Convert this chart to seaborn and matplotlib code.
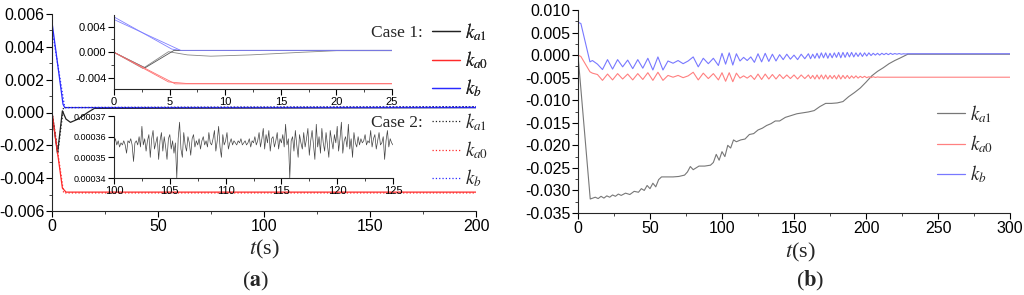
import numpy as np
import matplotlib
matplotlib.use('Agg')
import matplotlib.pyplot as plt
import seaborn as sns
from matplotlib.lines import Line2D
from matplotlib.ticker import MultipleLocator, FormatStrFormatter

# ---------------- (a) Case 1 ----------------
t_ka1_c1 = [0, 2.6, 4.9, 6.6, 8.7, 12.3, 16.8, 20, 200]
ka1_c1 = [0, -0.0025, 0.0001, -0.0004, -0.0006, -0.0004, 0.0, 0.00025, 0.0003]
t_ka0_c1 = [0, 4.9, 6.6, 200]
ka0_c1 = [0, -0.0046, -0.00485, -0.00485]
t_kb_c1 = [0, 5.2, 6.0, 200]
kb_c1 = [0.0055, 0.0005, 0.0003, 0.0003]

# ---------------- (a) Case 2 ----------------
t_ka1_c2 = [0, 2.8, 5.4, 200]
ka1_c2 = [0, -0.0024, 0.0003, 0.000357]
t_ka0_c2 = [0, 5.5, 200]
ka0_c2 = [0, -0.0049, -0.0049]
t_kb_c2 = [0, 6.0, 200]
kb_c2 = [0.0051, 0.0003, 0.000357]

# Case 2 k_a1, zoom 100..125 s (values in 1e-5)
t_zoom = np.linspace(100, 125, 201)
ka1_zoom = np.array([
    35.7, 35.9, 35.6, 35.8, 35.5, 35.7, 35.6, 35.8,
    35.6, 35.2, 35.8, 35.7, 35.9, 35.6, 34.8, 35.7,
    35.8, 35.6, 36.0, 35.5, 36.5, 35.6, 35.9, 35.3,
    35.8, 36.1, 35.0, 35.9, 36.3, 35.4, 35.7, 36.0,
    34.9, 35.8, 36.2, 35.3, 36.0, 35.5, 34.9, 35.9,
    36.1, 35.4, 35.8, 35.2, 35.7, 34.0, 35.9, 36.7,
    35.4, 35.0, 36.2, 35.6, 35.3, 36.0, 35.7, 35.1,
    35.9, 36.1, 35.5, 35.8, 35.6, 35.9, 35.4, 35.8,
    36.0, 35.6, 35.8, 35.5, 36.2, 35.7, 35.6, 35.9,
    36.3, 35.3, 35.8, 36.5, 35.5, 35.0, 36.1, 35.6,
    35.8, 36.2, 35.4, 35.7, 35.9, 35.6, 35.8, 35.7,
    35.6, 35.8, 35.7, 35.9, 35.6, 35.7, 35.8, 35.6,
    35.7, 35.9, 35.5, 35.8, 35.7, 36.0, 35.6, 35.8,
    36.2, 35.5, 35.9, 36.4, 35.4, 36.1, 35.7, 36.3,
    35.3, 35.9, 36.0, 35.5, 35.8, 36.2, 35.4, 35.9,
    35.7, 36.1, 35.5, 36.6, 35.6, 35.9, 34.0, 35.8,
    36.0, 35.3, 36.3, 35.6, 35.0, 36.1, 35.7, 35.4,
    36.2, 35.5, 35.9, 36.4, 35.1, 35.8, 36.3, 35.6,
    34.9, 36.6, 35.5, 36.0, 35.2, 36.4, 35.7, 35.3,
    36.2, 35.6, 35.0, 36.3, 35.8, 35.4, 36.1, 35.7,
    36.5, 35.3, 35.9, 36.7, 35.2, 35.8, 36.0, 35.5,
    36.6, 35.4, 35.9, 35.0, 36.2, 35.7, 35.5, 36.0,
    35.6, 35.9, 35.7, 35.8, 36.1, 35.6, 35.8, 35.7,
    36.3, 35.5, 35.9, 36.1, 35.4, 35.8, 36.2, 35.6,
    35.7, 36.0, 34.9, 35.8, 36.3, 35.5, 35.9, 35.7,
    35.6]) * 1e-5

# ---------------- (b) ----------------
t_b = [0, 2, 8.3,
       10, 13.5, 17, 20.5, 24, 27.5, 31, 34.5, 38, 41.5, 45, 48.5, 52,
       55.5, 59, 62.5, 66, 69.5, 73, 76.5, 80, 83.5, 87, 90.5, 94, 97.5,
       100, 102.5, 105, 107.5, 110, 112.5, 115, 117.5, 120, 122.5, 125,
       127.5, 130, 132.5, 135, 137.5, 140, 142.5, 145, 147.5, 150, 152.5,
       155, 157.5,
       160, 161.5, 163, 164.5, 166, 167.5, 169, 170.5, 172, 173.5,
       175, 176.5, 178, 179.5, 181, 182.5, 184, 185.5, 187, 188.5,
       190, 191.5, 193, 194.5, 196, 197.5, 199, 200.5, 202, 203.5,
       205, 206.5, 208, 209.5, 211, 212.5, 214, 215.5, 217, 218.5,
       220, 221.5, 223, 224.5, 226, 227.5, 229,
       231, 300]
kb_b = [7.3, 7.0, -1.5,
        -1.2, -2.0, -3.2, -1.0, -3.1, -1.0, -2.6, -1.1, -3.0, -1.0, -2.9, -0.7, -3.3,
        -0.4, -3.3, -1.3, -1.8, -1.2, -1.9, -1.3, -0.4, -2.6, -0.7, -1.9, -0.7, -2.3,
        0.4, -2.0, 0.5, -2.2, 0.3, -1.3, -0.5, -1.2, -0.4, -1.6, 0.3,
        -1.5, 0.4, -1.4, 0.2, -1.3, 0.1, -1.0, 0.2, -0.9, 0.0, -1.0,
        0.2, -0.8,
        0.3, -0.8, 0.2, -0.7, 0.4, -0.7, 0.5, -0.6, 0.5, -0.7,
        0.4, -0.6, 0.5, -0.5, 0.6, -0.6, 0.6, -0.5, 0.6, -0.4,
        0.6, -0.4, 0.5, -0.3, 0.5, -0.3, 0.5, -0.2, 0.5, -0.1,
        0.4, 0.0, 0.4, 0.0, 0.4, 0.1, 0.4, 0.1, 0.4, 0.15,
        0.35, 0.2, 0.35, 0.2, 0.3, 0.25, 0.3,
        0.3, 0.3]
ka0_b = [0.0, -0.3, -3.7,
         -4.0, -4.3, -5.6, -4.2, -5.5, -4.1, -5.3, -4.2, -5.5, -4.1, -5.4, -3.9, -5.6,
         -3.8, -5.6, -4.5, -4.9, -4.5, -5.0, -4.6, -3.8, -5.5, -4.0, -5.2, -4.1, -5.5,
         -3.9, -5.8, -3.9, -5.9, -4.0, -5.1, -4.6, -5.1, -4.5, -5.4, -4.2,
         -5.4, -4.2, -5.3, -4.3, -5.3, -4.3, -5.2, -4.4, -5.2, -4.4, -5.3,
         -4.4, -5.2,
         -4.4, -5.2, -4.5, -5.3, -4.4, -5.3, -4.4, -5.3, -4.4, -5.3,
         -4.5, -5.2, -4.5, -5.3, -4.4, -5.3, -4.5, -5.2, -4.5, -5.2,
         -4.6, -5.1, -4.6, -5.1, -4.7, -5.0, -4.7, -5.0, -4.8, -5.0,
         -4.8, -4.95, -4.85, -4.9, -4.9, -4.9, -4.9, -4.9, -4.9, -4.9,
         -4.9, -4.9, -4.9, -4.9, -4.9, -4.9, -4.9,
         -4.9, -4.9]

t_ka1_b = [0, 8.5, 12, 14, 16, 18, 20, 22, 24, 26, 28, 30, 33, 36, 39, 42, 44,
           46, 48, 50, 52, 54, 56, 58, 62, 66, 70, 74, 76, 78, 80, 84, 88, 92,
           94, 96, 98, 100, 102, 104, 106, 108, 110, 113, 116, 119, 122, 125,
           128, 131, 134, 137, 140, 144, 148, 152, 156, 160, 164, 168, 172,
           176, 180, 184, 188, 192, 196, 200, 204, 208, 212, 216, 220, 224,
           229, 235, 300]
ka1_b = [0.0, -31.9, -31.5, -31.8, -31.3, -31.7, -31.2, -31.5, -31.0, -31.3,
         -30.8, -31.1, -30.6, -30.9, -30.2, -30.4, -29.6, -30.0, -28.9, -29.6,
         -28.4, -29.2, -27.6, -27.0, -27.0, -27.0, -26.9, -26.6, -25.9, -24.7,
         -25.4, -24.6, -24.6, -24.4, -23.8, -22.0, -23.3, -21.4, -22.5, -20.0,
         -20.6, -18.8, -19.2, -18.8, -18.6, -17.6, -17.4, -16.6, -16.2, -15.6,
         -15.2, -14.6, -14.6, -13.8, -13.4, -13.0, -12.8, -12.6, -12.3, -11.4,
         -10.7, -10.7, -10.6, -10.3, -9.2, -8.3, -7.3, -6.0, -4.6, -3.6, -2.8,
         -1.9, -1.2, -0.6, 0.2, 0.2, 0.2]

sns.set_style('ticks')
plt.rcParams['font.family'] = ['Liberation Sans', 'DejaVu Sans']
plt.rcParams['mathtext.fontset'] = 'stix'
plt.rcParams['axes.unicode_minus'] = False
plt.rcParams['axes.linewidth'] = 0.8

W, H = 1024, 295
fig = plt.figure(figsize=(W / 100, H / 100), dpi=100)

def box(x0, y0, x1, y1):
    return [x0 / W, 1 - y1 / H, (x1 - x0) / W, (y1 - y0) / H]

def style(ax, size):
    sns.despine(ax=ax)
    ax.tick_params(which='major', direction='out', length=4, width=0.8,
                   labelsize=size, pad=1.5, colors='black')
    ax.tick_params(which='minor', direction='out', length=2, width=0.6)

BLK, RED, BLU = '#222222', '#ff2a2a', '#2a2aff'

# ---- panel (a) main ----
ax = fig.add_axes(box(52, 14, 476, 211))
for t, v, c in [(t_ka1_c1, ka1_c1, BLK), (t_ka0_c1, ka0_c1, RED), (t_kb_c1, kb_c1, BLU)]:
    sns.lineplot(x=t, y=v, ax=ax, color=c, lw=0.9)
for t, v, c in [(t_ka1_c2, ka1_c2, BLK), (t_ka0_c2, ka0_c2, RED), (t_kb_c2, kb_c2, BLU)]:
    sns.lineplot(x=t, y=v, ax=ax, color=c, lw=0.9, linestyle=':')
ax.set_xlim(0, 200)
ax.set_ylim(-0.006, 0.006)
ax.xaxis.set_major_locator(MultipleLocator(50))
ax.xaxis.set_minor_locator(MultipleLocator(25))
ax.yaxis.set_major_locator(MultipleLocator(0.002))
ax.yaxis.set_minor_locator(MultipleLocator(0.001))
ax.yaxis.set_major_formatter(FormatStrFormatter('%.3f'))
style(ax, 11.5)

# inset 1: first 25 s
ins1 = fig.add_axes(box(114, 15, 392, 89))
ins1.patch.set_alpha(0)
for t, v, c in [(t_ka1_c1, ka1_c1, '#888888'), (t_ka0_c1, ka0_c1, '#ff7070'), (t_kb_c1, kb_c1, '#8080ff'),
                (t_ka1_c2, ka1_c2, '#555555'), (t_ka0_c2, ka0_c2, '#ff7070'), (t_kb_c2, kb_c2, '#8080ff')]:
    sns.lineplot(x=t, y=v, ax=ins1, color=c, lw=0.6)
ins1.set_xlim(0, 25)
ins1.set_ylim(-0.0057, 0.0058)
ins1.xaxis.set_major_locator(MultipleLocator(5))
ins1.xaxis.set_minor_locator(MultipleLocator(2.5))
ins1.yaxis.set_major_locator(MultipleLocator(0.004))
ins1.yaxis.set_minor_locator(MultipleLocator(0.002))
ins1.yaxis.set_major_formatter(FormatStrFormatter('%.3f'))
style(ins1, 8)

# inset 2: Case 2 k_a1 100..125 s
ins2 = fig.add_axes(box(114, 116, 393, 178))
ins2.patch.set_alpha(0)
sns.lineplot(x=t_zoom, y=ka1_zoom, ax=ins2, color='#444444', lw=0.5)
ins2.set_xlim(100, 125)
ins2.set_ylim(0.00034, 0.00037)
ins2.xaxis.set_major_locator(MultipleLocator(5))
ins2.xaxis.set_minor_locator(MultipleLocator(2.5))
ins2.yaxis.set_major_locator(MultipleLocator(0.00001))
ins2.yaxis.set_major_formatter(FormatStrFormatter('%.5f'))
style(ins2, 8)
ins2.tick_params(axis='y', labelsize=6.5)

labels = [r'$k_{a1}$', r'$k_{a0}$', r'$k_b$']
h1 = [Line2D([], [], color=c, lw=0.9) for c in (BLK, RED, BLU)]
h2 = [Line2D([], [], color=c, lw=0.9, linestyle=':') for c in (BLK, RED, BLU)]
leg_kw = dict(loc='upper left', frameon=False, handlelength=1.5, handletextpad=0.25,
              labelspacing=0.35, borderpad=0, borderaxespad=0, fontsize=13.5)
leg1 = fig.legend(h1, labels, bbox_to_anchor=(432 / W, 1 - 21 / H), **leg_kw)
fig.add_artist(leg1)
fig.legend(h2, labels, bbox_to_anchor=(432 / W, 1 - 111 / H), **leg_kw)
fig.text(423 / W, 1 - 33 / H, 'Case 1:', ha='right', va='center',
         family='Liberation Serif', fontsize=12.5)
fig.text(423 / W, 1 - 123 / H, 'Case 2:', ha='right', va='center',
         family='Liberation Serif', fontsize=12.5)

fig.text(264 / W, 1 - 249 / H, r'$t$(s)', ha='center', va='center',
         family='Liberation Serif', fontsize=16)
fig.text(256 / W, 1 - 281 / H, r'($\mathbf{a}$)', ha='center', va='center',
         family='Liberation Serif', fontsize=16)

# ---- panel (b) ----
bx = fig.add_axes(box(578, 10, 1010, 213))
sns.lineplot(x=t_ka1_b, y=np.array(ka1_b) * 1e-3, ax=bx, color='#777777', lw=0.8)
sns.lineplot(x=t_b, y=np.array(ka0_b) * 1e-3, ax=bx, color='#ff8080', lw=0.8)
sns.lineplot(x=t_b, y=np.array(kb_b) * 1e-3, ax=bx, color='#7878ff', lw=0.8)
bx.set_xlim(0, 300)
bx.set_ylim(-0.035, 0.010)
bx.xaxis.set_major_locator(MultipleLocator(50))
bx.xaxis.set_minor_locator(MultipleLocator(25))
bx.yaxis.set_major_locator(MultipleLocator(0.005))
bx.yaxis.set_minor_locator(MultipleLocator(0.0025))
bx.yaxis.set_major_formatter(FormatStrFormatter('%.3f'))
style(bx, 11.5)

hb = [Line2D([], [], color=c, lw=0.9) for c in ('#777777', '#ff8080', '#7878ff')]
fig.legend(hb, labels, bbox_to_anchor=(937 / W, 1 - 103 / H),
           **dict(leg_kw, labelspacing=0.45))

fig.text(800 / W, 1 - 252 / H, r'$t$(s)', ha='center', va='center',
         family='Liberation Serif', fontsize=16)
fig.text(810 / W, 1 - 281 / H, r'($\mathbf{b}$)', ha='center', va='center',
         family='Liberation Serif', fontsize=16)

fig.savefig('out.png', dpi=100)
